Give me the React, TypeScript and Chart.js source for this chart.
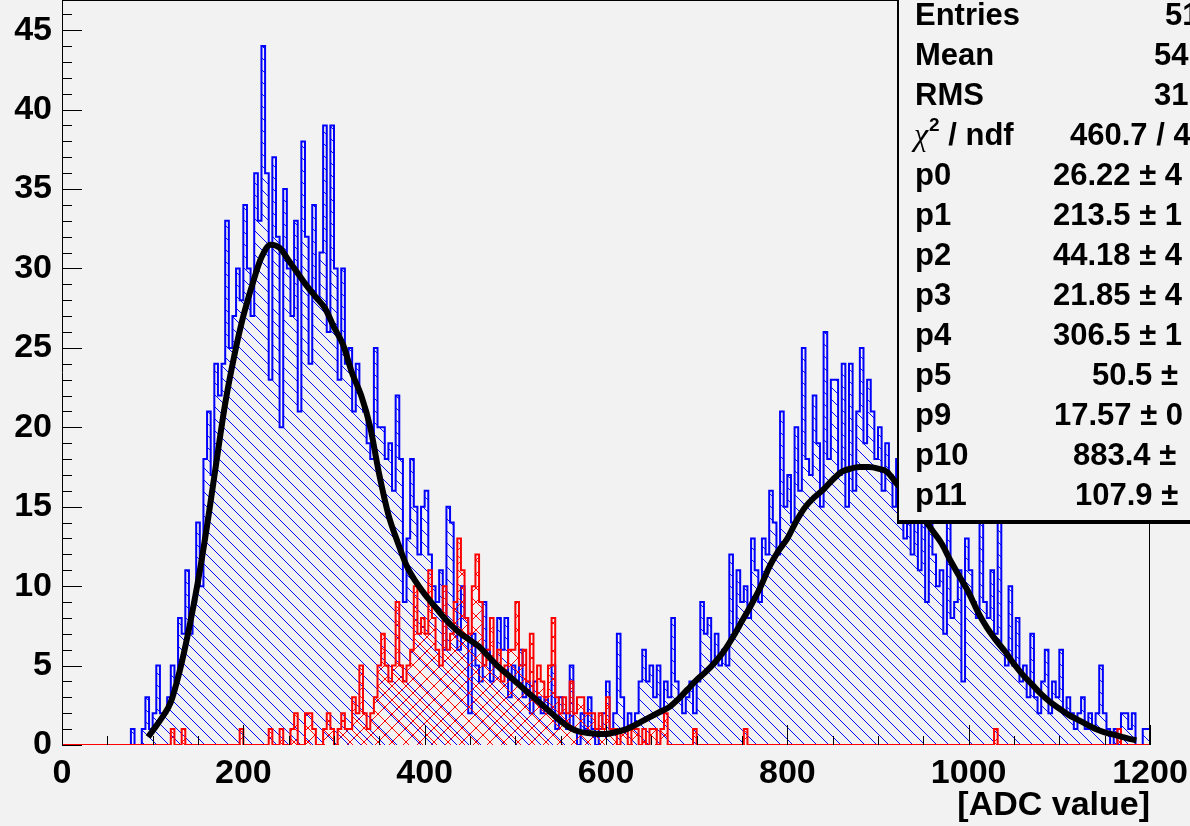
import React, { useEffect, useRef } from 'react';
import { Chart, registerables } from 'chart.js';

Chart.register(...registerables);

const BIN_WIDTH = 4;
const X_MIN = 0;
const X_MAX = 1200;
const Y_MAX = 46.9;

// blue histogram, bins of 4 ADC units starting at 0 (10 bins per row = 40 units)
const blueCounts = [
  0, 0, 0, 0, 0, 0, 0, 0, 0, 0, // 0
  0, 0, 0, 0, 0, 0, 0, 0, 0, 0, // 40
  1, 0, 0, 1, 3, 1, 2, 5, 2, 2, // 80
  3, 5, 4, 8, 7, 11, 7, 9, 14, 10, // 120
  18, 21, 17, 24, 22, 24, 33, 25, 27, 30, // 160
  28, 34, 30, 27, 36, 33, 44, 36, 23, 37, // 200
  32, 20, 35, 30, 27, 33, 21, 38, 32, 24, // 240
  34, 28, 31, 39, 26, 39, 30, 23, 30, 24, // 280
  25, 21, 24, 22, 21, 19, 18, 25, 20, 20, // 320
  18, 19, 16, 22, 18, 9, 13, 18, 15, 12, // 360
  15, 16, 12, 10, 9, 11, 6, 15, 14, 9, // 400
  6, 10, 8, 2, 7, 5, 4, 9, 6, 4, // 440
  5, 8, 6, 8, 3, 5, 4, 6, 3, 4, // 480
  2, 4, 3, 2, 3, 2, 5, 1, 3, 2, // 520
  1, 5, 1, 0, 2, 1, 3, 1, 0, 1, // 560
  2, 4, 1, 2, 7, 3, 1, 2, 1, 2, // 600
  4, 6, 4, 5, 3, 5, 2, 4, 3, 8, // 640
  4, 3, 2, 3, 4, 2, 4, 9, 7, 8, // 680
  5, 7, 5, 6, 5, 12, 7, 11, 9, 10, // 720
  8, 13, 11, 9, 13, 12, 16, 14, 12, 21, // 760
  15, 17, 14, 20, 16, 25, 18, 17, 22, 19, // 800
  15, 26, 18, 23, 23, 17, 24, 15, 24, 16, // 840
  21, 25, 19, 23, 21, 18, 20, 16, 19, 17, // 880
  15, 18, 14, 13, 16, 12, 14, 11, 15, 9, // 920
  14, 12, 10, 11, 7, 14, 8, 9, 11, 4, // 960
  13, 11, 9, 8, 14, 9, 8, 11, 7, 14, // 1000
  6, 5, 10, 5, 8, 4, 5, 3, 7, 3, // 1040
  2, 4, 6, 2, 4, 3, 6, 2, 3, 2, // 1080
  1, 2, 3, 1, 2, 1, 2, 5, 2, 1, // 1120
  0, 1, 0, 2, 2, 1, 2, 0, 0, 1, // 1160
];

// red histogram, same binning
const redCounts = [
  0, 0, 0, 0, 0, 0, 0, 0, 0, 0, // 0
  0, 0, 0, 0, 0, 0, 0, 0, 0, 0, // 40
  0, 0, 0, 0, 0, 0, 0, 0, 0, 0, // 80
  0, 1, 0, 0, 1, 0, 0, 0, 0, 0, // 120
  0, 0, 0, 0, 0, 0, 0, 0, 0, 0, // 160
  1, 0, 0, 0, 0, 0, 0, 0, 1, 0, // 200
  0, 1, 0, 0, 1, 2, 0, 0, 2, 2, // 240
  1, 0, 0, 1, 2, 1, 0, 1, 2, 1, // 280
  1, 3, 2, 5, 2, 1, 2, 3, 5, 7, // 320
  5, 4, 5, 9, 5, 4, 5, 6, 10, 7, // 360
  8, 7, 11, 8, 6, 5, 10, 6, 7, 9, // 400
  13, 11, 8, 7, 10, 12, 9, 5, 6, 8, // 440
  5, 6, 4, 5, 6, 6, 9, 5, 6, 4, // 480
  7, 3, 5, 4, 3, 5, 8, 3, 2, 3, // 520
  2, 4, 2, 3, 3, 2, 2, 2, 1, 2, // 560
  1, 3, 1, 1, 0, 1, 1, 0, 1, 1, // 600
  0, 1, 0, 1, 1, 0, 1, 2, 0, 0, // 640
  0, 0, 0, 0, 0, 1, 0, 0, 0, 0, // 680
  0, 0, 0, 0, 0, 0, 0, 0, 0, 1, // 720
  0, 0, 0, 0, 0, 0, 0, 0, 0, 0, // 760
  0, 0, 0, 0, 0, 0, 0, 0, 0, 0, // 800
  0, 0, 0, 0, 0, 0, 0, 0, 0, 0, // 840
  0, 0, 0, 0, 0, 0, 0, 0, 0, 0, // 880
  0, 0, 0, 0, 0, 0, 0, 0, 0, 0, // 920
  0, 0, 0, 0, 0, 0, 0, 0, 0, 0, // 960
  0, 0, 0, 0, 0, 0, 0, 0, 1, 0, // 1000
  0, 0, 0, 0, 0, 0, 0, 0, 0, 0, // 1040
  0, 0, 0, 0, 0, 0, 0, 0, 0, 0, // 1080
  0, 0, 0, 0, 0, 0, 0, 0, 0, 0, // 1120
  0, 0, 1, 0, 0, 0, 0, 0, 0, 0, // 1160
];

// fit curve
const fitX = [
  95, 100, 110, 120, 130, 140, 150, 160, 170, 180, 190, 200, 210, 220, 230, 240, 250, 260, 270, 280,
  290, 300, 310, 320, 330, 340, 350, 360, 370, 380, 390, 400, 410, 420, 430, 440, 450, 460, 470, 480,
  490, 500, 510, 520, 530, 540, 550, 560, 570, 580, 590, 600, 610, 620, 630, 640, 650, 660, 670, 680,
  690, 700, 710, 720, 730, 740, 750, 760, 770, 780, 790, 800, 810, 820, 830, 840, 850, 860, 870, 880,
  890, 900, 910, 920, 930, 940, 950, 960, 970, 980, 990, 1000, 1010, 1020, 1030, 1040, 1050, 1060, 1070, 1080,
  1090, 1100, 1110, 1120, 1130, 1140, 1150, 1160, 1170, 1180, 1185,
];
const fitY = [
  0.5, 0.9, 1.7, 2.7, 4.7, 7.3, 10.3, 13.8, 17.7, 21.5, 24.5, 27, 29, 30.7, 31.5, 31.3, 30.5, 29.7, 28.9, 28.2,
  27.5, 26.3, 25.2, 23.4, 22, 20, 17, 14.5, 12.8, 11.3, 10.3, 9.5, 8.8, 8.1, 7.5, 7, 6.6, 6.2, 5.6, 5,
  4.5, 4, 3.5, 3, 2.5, 2, 1.5, 1.1, 0.85, 0.75, 0.7, 0.7, 0.8, 0.95, 1.2, 1.5, 1.8, 2.1, 2.4, 2.9,
  3.5, 4.1, 4.6, 5.2, 5.9, 6.8, 7.8, 8.8, 9.9, 11.2, 12.2, 13, 14.1, 15, 15.6, 16.1, 16.7, 17.2, 17.4, 17.5,
  17.5, 17.4, 17.2, 16.5, 15.9, 15.1, 14.3, 13.5, 12.7, 11.6, 10.6, 9.6, 8.4, 7.4, 6.6, 5.9, 5.1, 4.4, 3.8, 3.2,
  2.7, 2.3, 1.9, 1.6, 1.3, 1.0, 0.8, 0.65, 0.5, 0.35, 0.3,
];

const xTickValues = [0, 200, 400, 600, 800, 1000, 1200];
const yTickValues = [0, 5, 10, 15, 20, 25, 30, 35, 40, 45];
const xTitle = '[ADC value]';

const statLabels = ['Entries', 'Mean', 'RMS', 'CHI', 'p0', 'p1', 'p2', 'p3', 'p4', 'p5', 'p9', 'p10', 'p11'];
const statValues = [
  '51', '54', '31', '460.7 / 4', '26.22 \u00b1 4', '213.5 \u00b1 1', '44.18 \u00b1 4', '21.85 \u00b1 4',
  '306.5 \u00b1 1', '50.5 \u00b1', '17.57 \u00b1 0', '883.4 \u00b1', '107.9 \u00b1',
];
const statValueX = [1165, 1154, 1154, 1070, 1053, 1053, 1053, 1053, 1053, 1092, 1054, 1073, 1075];

const FONT = "'Liberation Sans', Arial, sans-serif";

function steps(counts: number[]) {
  const pts = counts.map((c, i) => ({ x: X_MIN + i * BIN_WIDTH, y: c }));
  pts.push({ x: X_MAX, y: counts[counts.length - 1] });
  return pts;
}

// crisp 1-px diagonal hatch tiles
function hatch(ctx: CanvasRenderingContext2D, color: string, dirs: string[], size: number) {
  const c = document.createElement('canvas');
  c.width = size;
  c.height = size;
  const g = c.getContext('2d')!;
  g.fillStyle = color;
  for (const d of dirs) {
    for (let i = 0; i < size; i++) {
      if (d === '\\') g.fillRect(i, i, 1, 1);
      else g.fillRect(i, size - 1 - i, 1, 1);
    }
  }
  return ctx.createPattern(c, 'repeat')!;
}

const rootPlugin = {
  id: 'rootStyle',
  afterDatasetsDraw(chart: any) {
    const { ctx, chartArea, scales } = chart;
    const xs = scales.x;
    const ys = scales.y;
    ctx.save();
    ctx.strokeStyle = '#000';
    ctx.lineWidth = 1;
    ctx.beginPath();
    ctx.moveTo(chartArea.left + 0.5, chartArea.top);
    ctx.lineTo(chartArea.left + 0.5, chartArea.bottom);
    ctx.moveTo(chartArea.right - 0.5, chartArea.top);
    ctx.lineTo(chartArea.right - 0.5, chartArea.bottom);
    ctx.moveTo(chartArea.left, chartArea.top + 0.5);
    ctx.lineTo(chartArea.right, chartArea.top + 0.5);
    ctx.stroke();
    ctx.beginPath();
    for (let v = 0; v <= 46; v += 1) {
      const y = Math.round(ys.getPixelForValue(v)) + 0.5;
      const len = v % 5 === 0 ? 20 : 10;
      ctx.moveTo(chartArea.left, y);
      ctx.lineTo(chartArea.left + len, y);
    }
    for (let v = 0; v <= 1200; v += 50) {
      const x = Math.round(xs.getPixelForValue(v)) + 0.5;
      const len = v % 200 === 0 ? 20 : 9;
      ctx.moveTo(x, chartArea.bottom);
      ctx.lineTo(x, chartArea.bottom - len);
    }
    ctx.stroke();
    ctx.restore();
  },
  afterDraw(chart: any) {
    const { ctx, chartArea } = chart;
    ctx.save();
    ctx.fillStyle = '#000';
    ctx.font = `bold 34px ${FONT}`;
    ctx.textAlign = 'right';
    ctx.textBaseline = 'alphabetic';
    ctx.fillText(xTitle, chartArea.right, 815);
    const bx = 897;
    const bBottom = 522;
    ctx.fillStyle = '#000';
    ctx.fillRect(bx, -2, 400, bBottom + 4);
    ctx.fillStyle = '#f2f2f2';
    ctx.fillRect(bx + 2, -2, 400, bBottom);
    ctx.fillStyle = '#000';
    ctx.textAlign = 'left';
    for (let i = 0; i < statLabels.length; i++) {
      const base = 25 + i * 40;
      if (statLabels[i] === 'CHI') {
        ctx.font = `italic 32px 'Liberation Serif', serif`;
        ctx.fillText('\u03c7', 914, base);
        const w = ctx.measureText('\u03c7').width;
        ctx.font = `bold 19px ${FONT}`;
        ctx.fillText('2', 914 + w + 1, base - 14);
        const w2 = ctx.measureText('2').width;
        ctx.font = `bold 31px ${FONT}`;
        ctx.fillText(' / ndf', 914 + w + w2 + 1, base);
      } else {
        ctx.font = `bold 31px ${FONT}`;
        ctx.fillText(statLabels[i], 915, base);
      }
      ctx.font = `bold 31px ${FONT}`;
      ctx.fillText(statValues[i], statValueX[i], base);
    }
    ctx.restore();
  },
};

export default function App() {
  const ref = useRef<HTMLCanvasElement | null>(null);
  useEffect(() => {
    document.body.style.margin = '0';
    const canvas = ref.current!;
    const ctx = canvas.getContext('2d')!;
    const bluePattern = hatch(ctx, '#0000ff', ['\\'], 12);
    const redPattern = hatch(ctx, '#ff0000', ['\\', '/'], 14);
    const chart = new Chart(ctx, {
      type: 'line',
      data: {
        datasets: [
          {
            label: 'fit',
            data: fitX.map((x, i) => ({ x, y: fitY[i] })),
            borderColor: '#000',
            borderWidth: 6,
            pointRadius: 0,
            fill: false,
            cubicInterpolationMode: 'monotone',
            order: 1,
          },
          {
            label: 'red',
            data: steps(redCounts),
            borderColor: '#ff0000',
            backgroundColor: redPattern,
            borderWidth: 2,
            pointRadius: 0,
            stepped: 'after',
            fill: 'origin',
            order: 2,
          },
          {
            label: 'blue',
            data: steps(blueCounts),
            borderColor: '#0000ff',
            backgroundColor: bluePattern,
            borderWidth: 2,
            pointRadius: 0,
            stepped: 'after',
            fill: 'origin',
            order: 3,
          },
        ],
      },
      options: {
        animation: false,
        responsive: false,
        events: [],
        layout: { padding: { top: 0, right: 40, left: 0, bottom: 0 } },
        plugins: { legend: { display: false }, tooltip: { enabled: false } },
        scales: {
          x: {
            type: 'linear',
            min: X_MIN,
            max: X_MAX,
            grid: { display: false, drawTicks: false },
            border: { display: false },
            afterBuildTicks: (s: any) => { s.ticks = xTickValues.map((v) => ({ value: v })); },
            afterFit: (s: any) => { s.height = 81; s.paddingLeft = 0; s.paddingRight = 0; },
            ticks: {
              color: '#000',
              padding: 8,
              maxRotation: 0,
              autoSkip: false,
              callback: (v: any) => String(v),
              font: { family: FONT, size: 34, weight: 'bold' },
            },
          },
          y: {
            type: 'linear',
            min: 0,
            max: Y_MAX,
            grid: { display: false, drawTicks: false },
            border: { display: false },
            afterBuildTicks: (s: any) => { s.ticks = yTickValues.map((v) => ({ value: v })); },
            afterFit: (s: any) => { s.width = 62; s.paddingTop = 0; s.paddingBottom = 0; },
            ticks: {
              color: '#000',
              padding: 10,
              autoSkip: false,
              callback: (v: any) => String(v),
              font: { family: FONT, size: 34, weight: 'bold' },
            },
          },
        },
      },
      plugins: [rootPlugin],
    } as any);
    return () => chart.destroy();
  }, []);
  return (
    <div style={{ position: 'absolute', left: 0, top: 0, width: 1190, height: 826, background: '#f2f2f2' }}>
      <canvas ref={ref} width={1190} height={826} style={{ display: 'block' }} />
    </div>
  );
}
